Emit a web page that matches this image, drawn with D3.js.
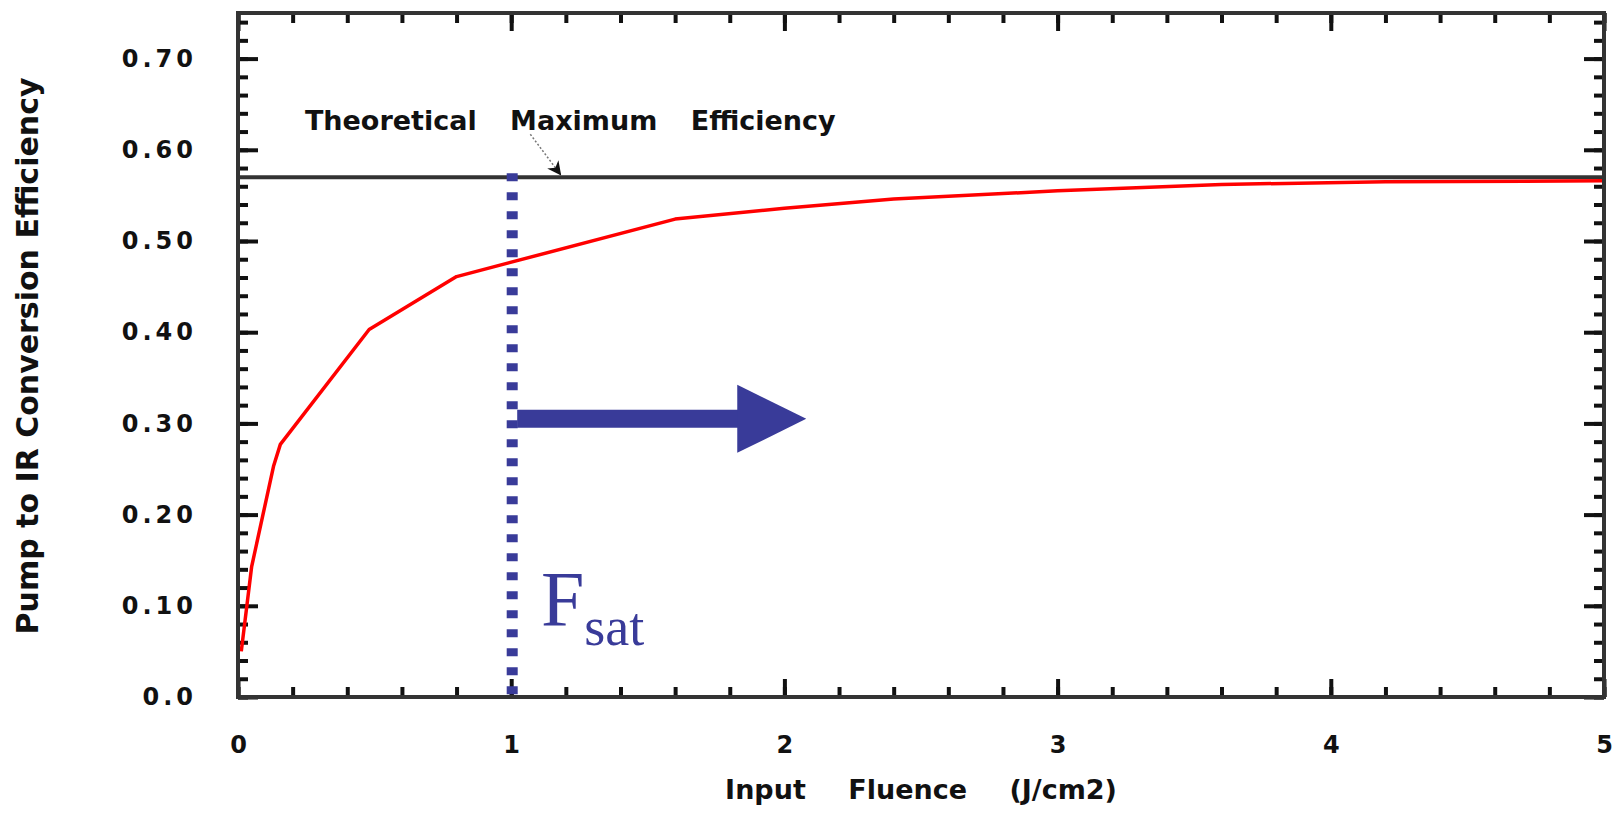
<!DOCTYPE html>
<html>
<head>
<meta charset="utf-8">
<script src="https://cdn.jsdelivr.net/npm/d3@7"></script>
<style>
  body { margin: 0; background: #fff; }
  text { font-family: "DejaVu Sans", sans-serif; font-weight: bold; fill: #111; }
</style>
</head>
<body>
<svg id="chart" width="1623" height="815"></svg>
<script>
// curve
var fluence    = [0.012, 0.05, 0.09, 0.13, 0.155, 0.48, 0.8, 1.6, 2.0, 2.4, 3.0, 3.6, 4.2, 5.0];
var efficiency = [0.05, 0.143, 0.198, 0.253, 0.277, 0.403, 0.461, 0.524, 0.536, 0.546, 0.555, 0.562, 0.565, 0.566];

var xTicks = [0, 1, 2, 3, 4, 5];
var xTickLabels = ["0", "1", "2", "3", "4", "5"];
var yTicks = [0, 0.1, 0.2, 0.3, 0.4, 0.5, 0.6, 0.7];
var yTickLabels = ["0.0", "0.10", "0.20", "0.30", "0.40", "0.50", "0.60", "0.70"];

var theoreticalMax = 0.57;
var fsat = 1;
var fsatArrow = [1, 2.08, 0.305];        // x start, x tip, y
var noteArrow = [[1.07, 0.617], [1.18, 0.573]];

var svg = d3.select("#chart"),
    margin = {top: 13, right: 19, bottom: 118, left: 238},
    width = +svg.attr("width") - margin.left - margin.right,
    height = +svg.attr("height") - margin.top - margin.bottom;

var g = svg.append("g").attr("transform", "translate(" + margin.left + "," + margin.top + ")");

var x = d3.scaleLinear().domain([0, 5]).range([0, width]);
var y = d3.scaleLinear().domain([0, 0.75]).range([height, 0]);

var minorX = d3.range(0, 5.0001, 0.2);
var minorY = d3.range(0, 0.7501, 0.02);

function styleTicks(sel) {
    sel.select(".domain").remove();
    sel.selectAll(".tick line").attr("stroke", "#111").attr("stroke-width", 4);
}

// minor ticks, all four sides
g.append("g").attr("transform", "translate(0," + height + ")")
    .call(d3.axisBottom(x).tickValues(minorX).tickSize(-10).tickFormat(""))
    .call(styleTicks);
g.append("g")
    .call(d3.axisTop(x).tickValues(minorX).tickSize(-10).tickFormat(""))
    .call(styleTicks);
g.append("g")
    .call(d3.axisLeft(y).tickValues(minorY).tickSize(-10).tickFormat(""))
    .call(styleTicks);
g.append("g").attr("transform", "translate(" + width + ",0)")
    .call(d3.axisRight(y).tickValues(minorY).tickSize(-10).tickFormat(""))
    .call(styleTicks);

// major ticks
g.append("g").attr("transform", "translate(0," + height + ")")
    .call(d3.axisBottom(x).tickValues(xTicks).tickSize(-18).tickPadding(39)
        .tickFormat(function(d, i) { return xTickLabels[i]; }))
    .call(styleTicks)
    .selectAll("text").attr("font-size", 24).attr("fill", "#111");
g.append("g")
    .call(d3.axisTop(x).tickValues(xTicks).tickSize(-18).tickFormat(""))
    .call(styleTicks);
g.append("g")
    .call(d3.axisLeft(y).tickValues(yTicks).tickSize(-20).tickPadding(41)
        .tickFormat(function(d, i) { return yTickLabels[i]; }))
    .call(styleTicks)
    .selectAll("text").attr("font-size", 24).attr("letter-spacing", 4).attr("fill", "#111");
g.append("g").attr("transform", "translate(" + width + ",0)")
    .call(d3.axisRight(y).tickValues(yTicks).tickSize(-20).tickFormat(""))
    .call(styleTicks);

// theoretical maximum line
g.append("line")
    .attr("x1", x(0)).attr("x2", x(5))
    .attr("y1", y(theoreticalMax)).attr("y2", y(theoreticalMax))
    .attr("stroke", "#333").attr("stroke-width", 4);

// efficiency curve
var pts = fluence.map(function(f, i) { return [f, efficiency[i]]; });
g.append("path")
    .datum(pts)
    .attr("fill", "none")
    .attr("stroke", "#ff0000")
    .attr("stroke-width", 3.5)
    .attr("stroke-linejoin", "round")
    .attr("d", d3.line().x(function(d) { return x(d[0]); }).y(function(d) { return y(d[1]); }));

// Fsat dotted line
g.append("line")
    .attr("x1", x(fsat) + 1).attr("x2", x(fsat) + 1)
    .attr("y1", y(theoreticalMax) - 4).attr("y2", y(0) + 3)
    .attr("stroke", "#393b99").attr("stroke-width", 11)
    .attr("stroke-dasharray", "8 11");

// thick arrow to the right
var ax0 = x(fsatArrow[0]) + 6, ax1 = x(fsatArrow[1]), ay = y(fsatArrow[2]);
g.append("line")
    .attr("x1", ax0).attr("x2", ax1 - 66)
    .attr("y1", ay).attr("y2", ay)
    .attr("stroke", "#393b99").attr("stroke-width", 18);
g.append("path")
    .attr("d", "M" + (ax1 - 69) + "," + (ay - 34) + "L" + ax1 + "," + ay + "L" + (ax1 - 69) + "," + (ay + 34) + "Z")
    .attr("fill", "#393b99");

// Fsat label
var fs = g.append("text")
    .attr("x", x(1.109)).attr("y", y(0.079))
    .style("font-family", "'Liberation Serif', 'Times New Roman', serif")
    .style("font-weight", "normal")
    .style("fill", "#393b99")
    .attr("font-size", 78)
    .text("F");
fs.append("tspan").attr("font-size", 54).attr("dy", 20).text("sat");

// annotation
g.append("text")
    .attr("x", x(0.245)).attr("y", y(0.622))
    .attr("font-size", 27)
    .attr("word-spacing", 24)
    .text("Theoretical Maximum Efficiency");

svg.append("defs").append("marker")
    .attr("id", "head")
    .attr("viewBox", "0 0 10 10")
    .attr("refX", 9).attr("refY", 5)
    .attr("markerWidth", 14).attr("markerHeight", 14)
    .attr("markerUnits", "userSpaceOnUse")
    .attr("orient", "auto")
    .append("path").attr("d", "M0,0L10,5L0,10L3,5Z").attr("fill", "#111");

g.append("line")
    .attr("x1", x(noteArrow[0][0])).attr("y1", y(noteArrow[0][1]))
    .attr("x2", x(noteArrow[1][0])).attr("y2", y(noteArrow[1][1]))
    .attr("stroke", "#777").attr("stroke-width", 1.5)
    .attr("stroke-dasharray", "2 2")
    .attr("marker-end", "url(#head)");

// frame
g.append("rect")
    .attr("width", width).attr("height", height)
    .attr("fill", "none").attr("stroke", "#333").attr("stroke-width", 4);

// axis titles
g.append("text")
    .attr("x", width / 2).attr("y", height + 102)
    .attr("font-size", 27)
    .attr("word-spacing", 33)
    .attr("text-anchor", "middle")
    .text("Input Fluence (J/cm2)");

g.append("text")
    .attr("transform", "translate(" + (38 - margin.left) + "," + (356 - margin.top) + ") rotate(-90)")
    .attr("font-size", 30)
    .attr("text-anchor", "middle")
    .text("Pump to IR Conversion Efficiency");
</script>
</body>
</html>
